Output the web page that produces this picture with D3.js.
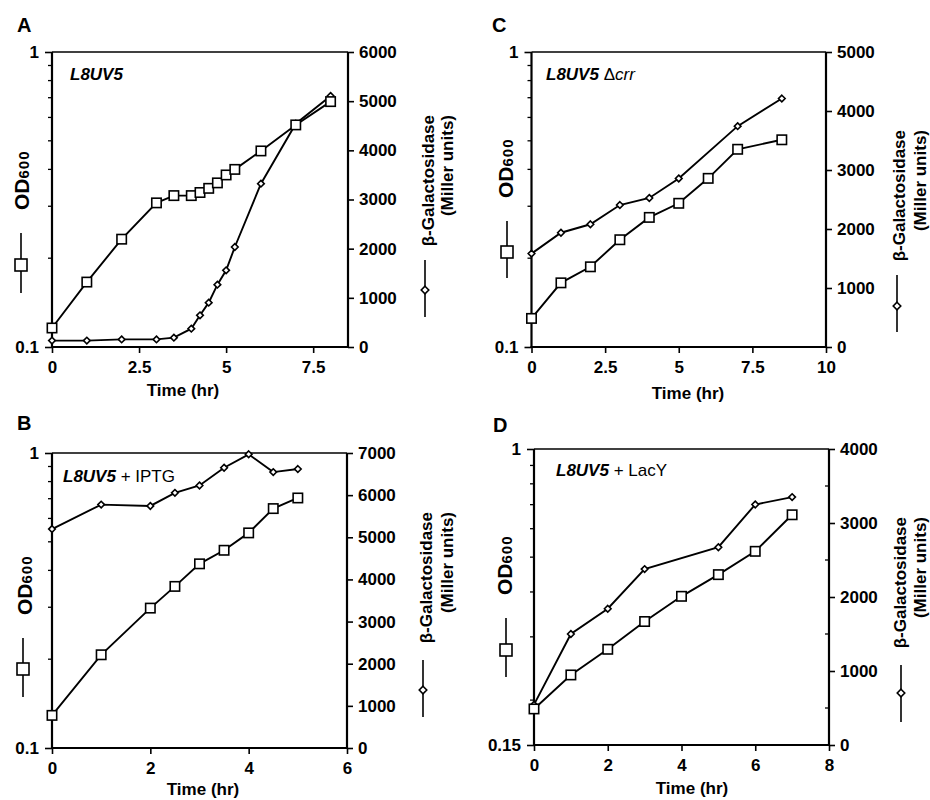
<!DOCTYPE html>
<html>
<head>
<meta charset="utf-8">
<script src="https://cdnjs.cloudflare.com/ajax/libs/d3/7.8.5/d3.min.js"></script>
<style>
	body { margin: 0; background: #fff; }
	svg text { font-family: "Liberation Sans", Arial, Helvetica, sans-serif; font-weight: bold; fill: #000; }
</style>
</head>
<body>
<div id="chart"></div>
<script>
// ---- data ----
// panel A: L8UV5
var timeA = [0, 1, 2, 3, 3.5, 4, 4.25, 4.5, 4.75, 5, 5.25, 6, 7, 8];
var odA = [0.116, 0.166, 0.232, 0.308, 0.326, 0.326, 0.334, 0.345, 0.360, 0.383, 0.400, 0.462, 0.566, 0.679];
var galTimeA = [0, 1, 2, 3, 3.5, 4, 4.25, 4.5, 4.75, 5, 5.25, 6, 7, 8];
var galA = [130, 130, 155, 155, 190, 373, 644, 902, 1268, 1559, 2034, 3322, 4542, 5105];

// panel B: L8UV5 + IPTG
var timeB = [0, 1, 2, 2.5, 3, 3.5, 4, 4.5, 5];
var odB = [0.129, 0.207, 0.298, 0.353, 0.421, 0.468, 0.536, 0.648, 0.704];
var galTimeB = [0, 1, 2, 2.5, 3, 3.5, 4, 4.5, 5];
var galB = [5195, 5776, 5744, 6054, 6229, 6651, 6969, 6547, 6619];

// panel C: L8UV5 delta crr
var timeC = [0, 1, 2, 3, 4, 5, 6, 7, 8.5];
var odC = [0.125, 0.165, 0.187, 0.231, 0.275, 0.307, 0.373, 0.468, 0.504];
var galTimeC = [0, 1, 2, 3, 4, 5, 7, 8.5];
var galC = [1583, 1937, 2080, 2406, 2526, 2857, 3743, 4211];

// panel D: L8UV5 + LacY
var timeD = [0, 1, 2, 3, 4, 5, 6, 7];
var odD = [0.189, 0.235, 0.277, 0.331, 0.389, 0.447, 0.519, 0.656];
var galTimeD = [0, 1, 2, 3, 5, 6, 7];
var galD = [545, 1500, 1841, 2377, 2673, 3250, 3350];

// axis ticks
var xTicksA = [0, 2.5, 5, 7.5];
var xTicksB = [0, 2, 4, 6];
var xTicksC = [0, 2.5, 5, 7.5, 10];
var xTicksD = [0, 2, 4, 6, 8];
var galTicksA = [0, 1000, 2000, 3000, 4000, 5000, 6000];
var galTicksB = [0, 1000, 2000, 3000, 4000, 5000, 6000, 7000];
var galTicksC = [0, 1000, 2000, 3000, 4000, 5000];
var galTicksD = [0, 1000, 2000, 3000, 4000];
var galMinorD = [500, 1500, 2500, 3500];
var odMinor = [0.2, 0.3, 0.4, 0.5, 0.6, 0.7, 0.8, 0.9];

var FONT = 17;

var svg = d3.select("#chart").append("svg")
	.attr("width", 930)
	.attr("height", 800);

function rotText(g, x, y, anchor)
{
	return g.append("text")
		.attr("transform", "translate(" + x + "," + y + ") rotate(-90)")
		.attr("text-anchor", anchor)
		.attr("dy", "0.35em");
}

function drawPanel(svg, o)
{
	var g = svg.append("g");

	var x = d3.scaleLinear().domain(o.xDomain).range([o.left, o.right]);
	var y = d3.scaleLog().domain(o.odDomain).range([o.bottom, o.top]);
	var y2 = d3.scaleLinear().domain([0, d3.max(o.galTicks)]).range([o.bottom, o.top]);

	// frame: thin top border
	g.append("line")
		.attr("x1", o.left).attr("x2", o.right)
		.attr("y1", o.top).attr("y2", o.top)
		.attr("stroke", "#000").attr("stroke-width", 1.3);

	// x axis
	var xAxis = g.append("g")
		.attr("transform", "translate(0," + o.bottom + ")")
		.call(d3.axisBottom(x).tickValues(o.xTicks).tickSize(6).tickPadding(8)
			.tickFormat(function(d) { return String(d); }));

	// left log axis, major ticks
	var yAxis = g.append("g")
		.attr("transform", "translate(" + o.left + ",0)")
		.call(d3.axisLeft(y).tickValues(o.odDomain).tickSize(7).tickPadding(6)
			.tickFormat(function(d) { return String(d); }));

	// left log axis, minor ticks
	g.selectAll("line.odminor")
		.data(o.odMinor.filter(function(d) { return d > o.odDomain[0]; }))
		.enter().append("line")
		.attr("x1", o.left - 4).attr("x2", o.left)
		.attr("y1", function(d) { return y(d); })
		.attr("y2", function(d) { return y(d); })
		.attr("stroke", "#000").attr("stroke-width", 1.3);

	// right axis
	var y2Axis = g.append("g")
		.attr("transform", "translate(" + o.right + ",0)")
		.call(d3.axisRight(y2).tickValues(o.galTicks).tickSize(6).tickPadding(5)
			.tickFormat(d3.format("d")));

	if (o.galMinor) {
		g.selectAll("line.galminor")
			.data(o.galMinor)
			.enter().append("line")
			.attr("x1", o.right - 4).attr("x2", o.right)
			.attr("y1", function(d) { return y2(d); })
			.attr("y2", function(d) { return y2(d); })
			.attr("stroke", "#000").attr("stroke-width", 1.3);
	}

	[xAxis, yAxis, y2Axis].forEach(function(a) {
		a.selectAll(".domain").attr("stroke", "#000").attr("stroke-width", 2.2);
		a.selectAll(".tick line").attr("stroke", "#000").attr("stroke-width", 1.6);
		a.selectAll(".tick text").attr("font-size", FONT).attr("fill", "#000");
	});
	// plain axis lines without end caps
	xAxis.select(".domain").attr("d", "M" + (o.left - 1) + ",0H" + (o.right + 1));
	yAxis.select(".domain").attr("d", "M0," + o.top + "V" + o.bottom);
	y2Axis.select(".domain").attr("d", "M0," + o.top + "V" + o.bottom);

	// series lines
	var odPts = o.time.map(function(t, i) { return [x(t), y(o.od[i])]; });
	var galPts = o.galTime.map(function(t, i) { return [x(t), y2(o.gal[i])]; });
	var line = d3.line();

	g.append("path").attr("d", line(galPts))
		.attr("fill", "none").attr("stroke", "#000").attr("stroke-width", 1.9);
	g.append("path").attr("d", line(odPts))
		.attr("fill", "none").attr("stroke", "#000").attr("stroke-width", 1.9);

	var dia = d3.symbol().type(d3.symbolDiamond2).size(28);
	g.selectAll("path.dia")
		.data(galPts)
		.enter().append("path")
		.attr("d", dia)
		.attr("transform", function(d) { return "translate(" + d[0] + "," + d[1] + ")"; })
		.attr("fill", "#fff").attr("stroke", "#000").attr("stroke-width", 1.6);

	g.selectAll("rect.sq")
		.data(odPts)
		.enter().append("rect")
		.attr("x", function(d) { return d[0] - 4.7; })
		.attr("y", function(d) { return d[1] - 4.7; })
		.attr("width", 9.4).attr("height", 9.4)
		.attr("fill", "#fff").attr("stroke", "#000").attr("stroke-width", 1.6);

	// panel letter
	g.append("text")
		.attr("x", o.letterPos[0]).attr("y", o.letterPos[1])
		.attr("font-size", 20)
		.text(o.letter);

	// strain label
	var st = g.append("text")
		.attr("x", o.strainPos[0]).attr("y", o.strainPos[1])
		.attr("font-size", FONT);
	o.strain.forEach(function(s) {
		st.append("tspan")
			.attr("font-style", s.italic ? "italic" : "normal")
			.attr("font-weight", s.bold ? "bold" : "normal")
			.text(s.text);
	});

	// x axis title
	g.append("text")
		.attr("x", o.timePos[0]).attr("y", o.timePos[1])
		.attr("text-anchor", "middle")
		.attr("font-size", FONT)
		.text("Time (hr)");

	// OD600 title
	var od = rotText(g, o.odPos[0], o.odPos[1], "start");
	od.append("tspan").attr("font-size", 21).text("OD");
	od.append("tspan").attr("font-size", 15).attr("letter-spacing", 1).text("600");

	// square legend
	g.append("line")
		.attr("x1", o.sqLeg[0]).attr("x2", o.sqLeg[0])
		.attr("y1", o.sqLeg[1]).attr("y2", o.sqLeg[2])
		.attr("stroke", "#000").attr("stroke-width", 1.6);
	g.append("rect")
		.attr("x", o.sqLeg[0] - 6).attr("y", o.sqLeg[3] - 6)
		.attr("width", 12).attr("height", 12)
		.attr("fill", "#fff").attr("stroke", "#000").attr("stroke-width", 1.6);

	// beta-galactosidase title
	rotText(g, o.galPos[0], o.galPos[2], "end").attr("font-size", FONT).text("\u03b2-Galactosidase");
	rotText(g, o.galPos[1], o.galPos[2], "end").attr("font-size", FONT).text("(Miller units)");

	// diamond legend
	g.append("line")
		.attr("x1", o.diaLeg[0]).attr("x2", o.diaLeg[0])
		.attr("y1", o.diaLeg[1]).attr("y2", o.diaLeg[2])
		.attr("stroke", "#000").attr("stroke-width", 1.6);
	g.append("path")
		.attr("d", d3.symbol().type(d3.symbolDiamond2).size(36))
		.attr("transform", "translate(" + o.diaLeg[0] + "," + o.diaLeg[3] + ")")
		.attr("fill", "#fff").attr("stroke", "#000").attr("stroke-width", 1.6);
}

drawPanel(svg, {
	left: 52, right: 348, top: 52, bottom: 347,
	xDomain: [0, 8.5], xTicks: xTicksA,
	odDomain: [0.1, 1], odMinor: odMinor,
	galTicks: galTicksA,
	time: timeA, od: odA, galTime: galTimeA, gal: galA,
	letter: "A", letterPos: [17, 32],
	strain: [{text: "L8UV5", italic: true, bold: true}], strainPos: [70, 80],
	timePos: [183, 396],
	odPos: [23, 210], sqLeg: [21, 233, 293, 265],
	galPos: [428, 447, 115], diaLeg: [425, 260, 317, 290]
});

drawPanel(svg, {
	left: 52, right: 347, top: 453, bottom: 748,
	xDomain: [0, 6], xTicks: xTicksB,
	odDomain: [0.1, 1], odMinor: odMinor,
	galTicks: galTicksB,
	time: timeB, od: odB, galTime: galTimeB, gal: galB,
	letter: "B", letterPos: [17, 430],
	strain: [{text: "L8UV5", italic: true, bold: true}, {text: " + IPTG", bold: false}], strainPos: [63, 482],
	timePos: [203, 795],
	odPos: [26, 615], sqLeg: [23, 638, 697, 669],
	galPos: [426, 447, 512], diaLeg: [423, 660, 717, 690]
});

drawPanel(svg, {
	left: 531.5, right: 826, top: 52, bottom: 347,
	xDomain: [0, 10], xTicks: xTicksC,
	odDomain: [0.1, 1], odMinor: odMinor,
	galTicks: galTicksC,
	time: timeC, od: odC, galTime: galTimeC, gal: galC,
	letter: "C", letterPos: [492, 32],
	strain: [{text: "L8UV5 ", italic: true, bold: true}, {text: "\u0394", bold: false}, {text: "crr", italic: true, bold: false}], strainPos: [546, 80],
	timePos: [688, 399],
	odPos: [507, 198], sqLeg: [507, 221, 278, 252],
	galPos: [899, 920, 130], diaLeg: [897, 275, 332, 306]
});

drawPanel(svg, {
	left: 534, right: 829, top: 449, bottom: 745,
	xDomain: [0, 8], xTicks: xTicksD,
	odDomain: [0.15, 1], odMinor: odMinor,
	galTicks: galTicksD, galMinor: galMinorD,
	time: timeD, od: odD, galTime: galTimeD, gal: galD,
	letter: "D", letterPos: [493, 432],
	strain: [{text: "L8UV5", italic: true, bold: true}, {text: " + LacY", bold: false}], strainPos: [556, 476],
	timePos: [692, 794],
	odPos: [506, 595], sqLeg: [506, 618, 677, 650],
	galPos: [900, 920, 517], diaLeg: [901, 665, 722, 693]
});
</script>
</body>
</html>
